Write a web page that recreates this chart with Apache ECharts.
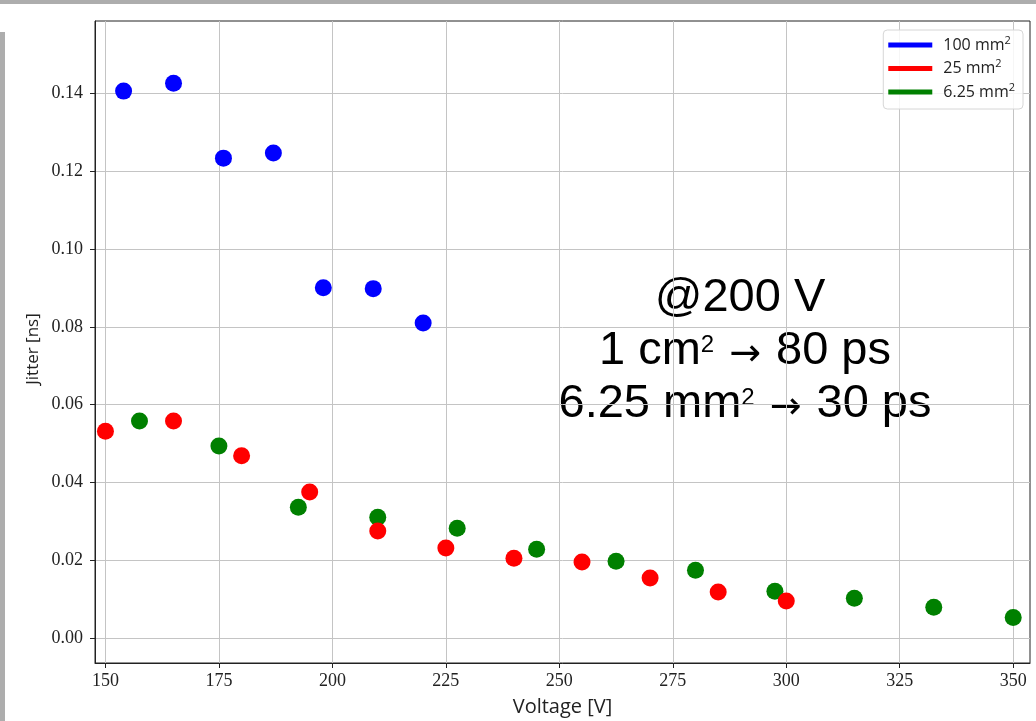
<!DOCTYPE html>
<html>
<head>
<meta charset="utf-8">
<script src="https://cdn.jsdelivr.net/npm/echarts@6/dist/echarts.min.js"></script>
<style>html,body{margin:0;padding:0;background:#fff}#c{width:1036px;height:721px}</style>
</head>
<body>
<div id="c"></div>
<script>
// Data
const seriesNames = ['100 mm²', '25 mm²', '6.25 mm²'];
const blueX = [154, 165, 176, 187, 198, 209, 220];
const blueY = [0.1405, 0.1425, 0.1233, 0.1246, 0.0900, 0.0898, 0.0810];
const redX = [150, 165, 180, 195, 210, 225, 240, 255, 270, 285, 300];
const redY = [0.0532, 0.0558, 0.0469, 0.0376, 0.0276, 0.0232, 0.0206, 0.0196, 0.0155, 0.0119, 0.0096];
const greenX = [157.5, 175, 192.5, 210, 227.5, 245, 262.5, 280, 297.5, 315, 332.5, 350];
const greenY = [0.0558, 0.0494, 0.0337, 0.0311, 0.0283, 0.0229, 0.0198, 0.0175, 0.0121, 0.0103, 0.0080, 0.0054];
const xTicks = [150, 175, 200, 225, 250, 275, 300, 325, 350];
const yTicks = [0.00, 0.02, 0.04, 0.06, 0.08, 0.10, 0.12, 0.14];

const zip = (xs, ys) => xs.map((x, i) => [x, ys[i]]);
const chart = echarts.init(document.getElementById('c'));
const serif = 'Liberation Serif';
const annRich = {
  a: { fontFamily: 'Liberation Sans', fontSize: 47, color: '#000', lineHeight: 54 },
  s: { fontFamily: 'Liberation Sans', fontSize: 24, color: '#000', lineHeight: 24, padding: [0, 0, 12, 0] },
  r: { fontFamily: 'DejaVu Sans', fontSize: 38, color: '#000', lineHeight: 38, padding: [8, 15, 0, 15] }
};
chart.setOption({
  animation: false,
  backgroundColor: '#ffffff',
  grid: { left: 95, top: 21, right: 6, bottom: 58, outerBoundsMode: 'none', containLabel: false, show: true, borderColor: '#222', borderWidth: 1, backgroundColor: 'transparent' },
  xAxis: {
    type: 'value', min: 147.7, max: 353.7,
    name: 'Voltage [V]', nameLocation: 'middle', nameGap: 34,
    nameTextStyle: { fontFamily: 'Open Sans', fontSize: 20, color: '#222' },
    axisLine: { show: true, onZero: false, lineStyle: { color: '#222', width: 1 } },
    axisTick: { show: true, length: 5, lineStyle: { color: '#222' }, customValues: xTicks },
    axisLabel: { fontFamily: serif, fontSize: 18, color: '#222', margin: 9, customValues: xTicks, showMinLabel: true, showMaxLabel: true },
    splitLine: { show: true, lineStyle: { color: '#c4c4c4', width: 1 } },
    interval: 25
  },
  yAxis: {
    type: 'value', min: -0.0063, max: 0.1585,
    axisLine: { show: true, onZero: false, lineStyle: { color: '#222', width: 1 } },
    axisTick: { show: true, length: 5, lineStyle: { color: '#222' }, customValues: yTicks },
    axisLabel: { fontFamily: serif, fontSize: 18, color: '#222', margin: 12, customValues: yTicks, formatter: v => v.toFixed(2) },
    splitLine: { show: true, lineStyle: { color: '#c4c4c4', width: 1 } },
    interval: 0.02
  },
  legend: {
    orient: 'vertical', right: 13, top: 30,
    data: seriesNames,
    icon: 'rect', itemWidth: 44, itemHeight: 5, itemGap: 5.5,
    padding: [5, 8, 9, 5],
    backgroundColor: 'rgba(255,255,255,0.85)', borderColor: '#d6d6d6', borderWidth: 1, borderRadius: 4,
    formatter: n => '{a|' + n.replace('²', '') + '}{s|2}',
    textStyle: {
      padding: [0, 0, 0, 6],
      rich: {
        a: { fontFamily: 'Open Sans', fontSize: 16, color: '#222', lineHeight: 20 },
        s: { fontFamily: 'Open Sans', fontSize: 11, color: '#222', verticalAlign: 'top', lineHeight: 10 }
      }
    }
  },
  series: [
    { name: seriesNames[0], type: 'scatter', data: zip(blueX, blueY), symbolSize: 17, itemStyle: { color: '#0000ff', opacity: 1 } },
    { name: seriesNames[2], type: 'scatter', data: zip(greenX, greenY), symbolSize: 17, itemStyle: { color: '#008000', opacity: 1 } },
    { name: seriesNames[1], type: 'scatter', data: zip(redX, redY), symbolSize: 17, itemStyle: { color: '#ff0000', opacity: 1 } }
  ],
  graphic: [
    { type: 'rect', left: 0, top: 0, shape: { width: 1036, height: 4 }, style: { fill: '#adadad' }, silent: true },
    { type: 'rect', left: 0, top: 32, shape: { width: 5, height: 689 }, style: { fill: '#adadad' }, silent: true },
    { type: 'text', x: 33, y: 349, rotation: Math.PI / 2, style: { text: 'Jitter [ns]', font: '17px "Open Sans"', fill: '#222', textAlign: 'center', textVerticalAlign: 'middle' } },
    { type: 'text', x: 740, y: 298, style: { text: '{a|@200 V}', rich: annRich, textAlign: 'center', textVerticalAlign: 'middle' } },
    { type: 'text', x: 745, y: 351, style: { text: '{a|1 cm}{s|2}{r|→}{a|80 ps}', rich: annRich, textAlign: 'center', textVerticalAlign: 'middle' } },
    { type: 'text', x: 745, y: 404, style: { text: '{a|6.25 mm}{s|2}{r|→}{a|30 ps}', rich: annRich, textAlign: 'center', textVerticalAlign: 'middle' } }
  ]
});
</script>
</body>
</html>
